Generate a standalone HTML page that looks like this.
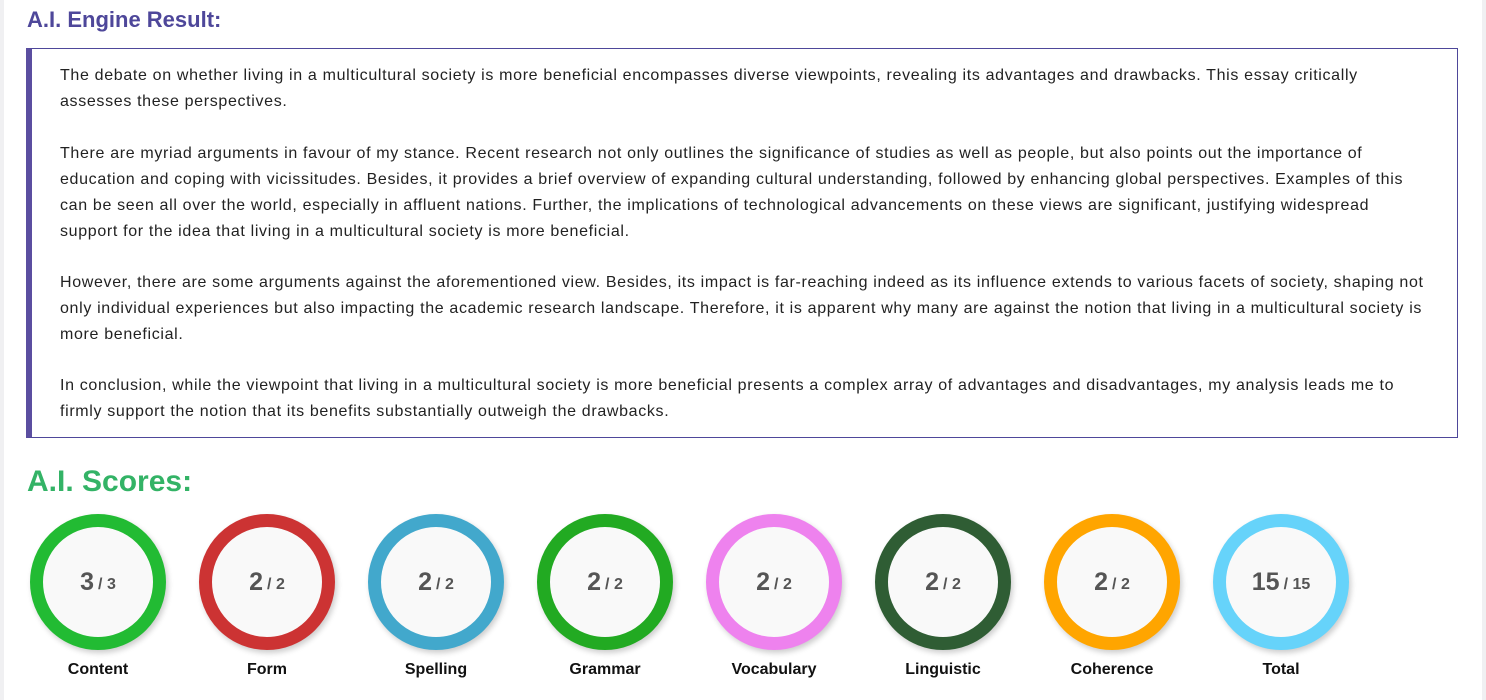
<!DOCTYPE html>
<html><head><meta charset="utf-8"><style>
*{margin:0;padding:0;box-sizing:border-box}
body{width:1486px;height:700px;background:#fff;font-family:"Liberation Sans",Arial,sans-serif;position:relative;overflow:hidden}
.sl{position:absolute;left:0;top:0;width:4px;height:700px;background:#f0f0f2}
.sr{position:absolute;right:0;top:0;width:4px;height:700px;background:#f0f0f2}
h1{position:absolute;left:27px;top:7px;font-size:22px;font-weight:bold;color:#4e479a}
.box{position:absolute;left:26px;top:48px;width:1432px;height:390px;border:1px solid #4e479a;border-left:6px solid #5b4ea0}
.box p{position:absolute;left:28px;font-size:16px;letter-spacing:0.66px;line-height:26px;color:#222;white-space:nowrap}
h2{position:absolute;left:27px;top:465px;font-size:30px;font-weight:bold;color:#33b366}
.c{position:absolute;top:514px;width:136px;height:136px;border-radius:50%;border:13px solid;background:#f9f9f9;box-shadow:2px 3px 6px rgba(0,0,0,.2);display:flex;align-items:center;justify-content:center;color:#555;font-weight:bold}
.c b{font-size:25px}.c span{font-size:16px;margin-left:4px;margin-top:6px}
.l{position:absolute;top:661px;width:160px;text-align:center;font-size:16px;font-weight:bold;color:#111}
</style></head><body>
<div class="sl"></div><div class="sr"></div>
<h1>A.I. Engine Result:</h1>
<div class="box">
<p style="top:14px">The debate on whether living in a multicultural society is more beneficial encompasses diverse viewpoints, revealing its advantages and drawbacks. This essay critically<br>assesses these perspectives.</p>
<p style="top:92px">There are myriad arguments in favour of my stance. Recent research not only outlines the significance of studies as well as people, but also points out the importance of<br>education and coping with vicissitudes. Besides, it provides a brief overview of expanding cultural understanding, followed by enhancing global perspectives. Examples of this<br>can be seen all over the world, especially in affluent nations. Further, the implications of technological advancements on these views are significant, justifying widespread<br>support for the idea that living in a multicultural society is more beneficial.</p>
<p style="top:221px">However, there are some arguments against the aforementioned view. Besides, its impact is far-reaching indeed as its influence extends to various facets of society, shaping not<br>only individual experiences but also impacting the academic research landscape. Therefore, it is apparent why many are against the notion that living in a multicultural society is<br>more beneficial.</p>
<p style="top:324px">In conclusion, while the viewpoint that living in a multicultural society is more beneficial presents a complex array of advantages and disadvantages, my analysis leads me to<br>firmly support the notion that its benefits substantially outweigh the drawbacks.</p>
</div>
<h2>A.I. Scores:</h2>
<div class="c" style="left:30px;border-color:#22bb33"><b>3</b><span>/ 3</span></div>
<div class="c" style="left:199px;border-color:#cc3333"><b>2</b><span>/ 2</span></div>
<div class="c" style="left:368px;border-color:#42a8cc"><b>2</b><span>/ 2</span></div>
<div class="c" style="left:537px;border-color:#22aa22"><b>2</b><span>/ 2</span></div>
<div class="c" style="left:706px;border-color:#ee82ee"><b>2</b><span>/ 2</span></div>
<div class="c" style="left:875px;border-color:#2f5d34"><b>2</b><span>/ 2</span></div>
<div class="c" style="left:1044px;border-color:#ffa500"><b>2</b><span>/ 2</span></div>
<div class="c" style="left:1213px;border-color:#66d3fa"><b>15</b><span>/ 15</span></div>
<div class="l" style="left:18px">Content</div>
<div class="l" style="left:187px">Form</div>
<div class="l" style="left:356px">Spelling</div>
<div class="l" style="left:525px">Grammar</div>
<div class="l" style="left:694px">Vocabulary</div>
<div class="l" style="left:863px">Linguistic</div>
<div class="l" style="left:1032px">Coherence</div>
<div class="l" style="left:1201px">Total</div>
</body></html>
